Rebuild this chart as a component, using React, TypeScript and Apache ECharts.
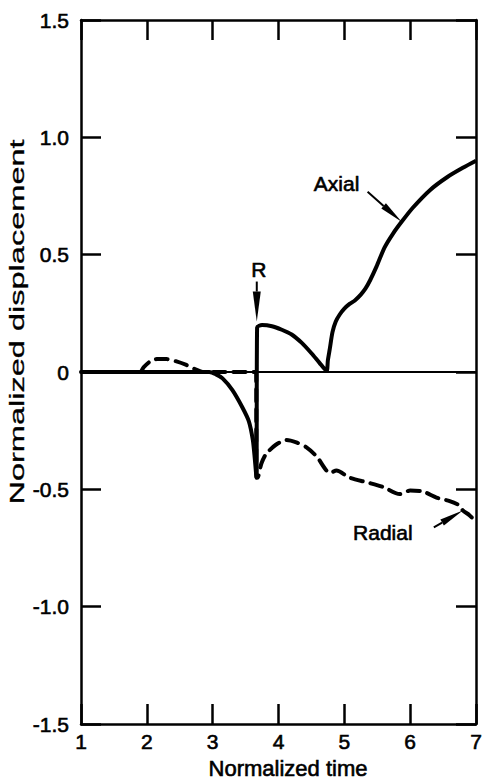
import React, { useEffect, useRef } from "react";
import * as echarts from "echarts";

// Normalized time (x) vs normalized displacement (y)
const axialPoints: [number, number][] = [
  [1.0, 0], [2.95, 0], [3.05, -0.01], [3.15, -0.027], [3.3, -0.077], [3.45, -0.15],
  [3.55, -0.21], [3.61, -0.29], [3.64, -0.37], [3.665, -0.45],
  [3.675, 0.19], [3.75, 0.2], [3.9, 0.195], [4.05, 0.18], [4.2, 0.16], [4.35, 0.125],
  [4.5, 0.08], [4.62, 0.04], [4.73, 0.005],
  [4.75, 0.05], [4.78, 0.1], [4.82, 0.17], [4.87, 0.215], [4.93, 0.245], [5.0, 0.27],
  [5.08, 0.29], [5.16, 0.305], [5.25, 0.33], [5.32, 0.355], [5.39, 0.39], [5.49, 0.45],
  [5.61, 0.53], [5.74, 0.59], [5.87, 0.64], [6.04, 0.7], [6.3, 0.775], [6.56, 0.83],
  [6.8, 0.87], [7.0, 0.9],
];

const radialPoints: [number, number][] = [
  [1.0, 0], [1.9, 0], [1.95, 0.02], [2.05, 0.045], [2.15, 0.055], [2.3, 0.055],
  [2.45, 0.045], [2.6, 0.03], [2.75, 0.01], [2.85, 0], [3.66, 0], [3.665, -0.45],
  [3.68, -0.45], [3.74, -0.39], [3.81, -0.35], [3.96, -0.31], [4.12, -0.29], [4.27, -0.3],
  [4.42, -0.32], [4.58, -0.36], [4.78, -0.43], [4.88, -0.42], [5.08, -0.45], [5.34, -0.47],
  [5.59, -0.49], [5.84, -0.52], [6.0, -0.505], [6.2, -0.51], [6.4, -0.535], [6.6, -0.55],
  [6.76, -0.57], [6.8, -0.59], [6.9, -0.61], [7.0, -0.64],
];

const baseline: [number, number][] = [[1, 0], [7, 0]];

const xRange = { min: 1, max: 7, step: 1 };
const yRange = { min: -1.5, max: 1.5, step: 0.5 };

// Annotation anchors (data coordinates of arrow tips)
const axialTip: [number, number] = [5.87, 0.64];
const radialTip: [number, number] = [6.8, -0.59];
const releaseTip: [number, number] = [3.67, 0.215];

const FONT = "'Liberation Sans', Arial, Helvetica, sans-serif";

function arrow(tail: number[], tip: number[], headLen: number, headWidth: number) {
  const dx = tip[0] - tail[0];
  const dy = tip[1] - tail[1];
  const len = Math.sqrt(dx * dx + dy * dy);
  const ux = dx / len;
  const uy = dy / len;
  const bx = tip[0] - ux * headLen;
  const by = tip[1] - uy * headLen;
  const px = -uy * (headWidth / 2);
  const py = ux * (headWidth / 2);
  return [
    {
      type: "line",
      shape: { x1: tail[0], y1: tail[1], x2: bx, y2: by },
      style: { stroke: "#000", lineWidth: 2 },
    },
    {
      type: "polygon",
      shape: { points: [[bx + px, by + py], [tip[0], tip[1]], [bx - px, by - py]] },
      style: { fill: "#000" },
    },
  ];
}

export default function App() {
  const ref = useRef<HTMLDivElement>(null);

  useEffect(() => {
    if (!ref.current) return;
    const chart = echarts.init(ref.current, null, { renderer: "svg" });

    const axisLine = { show: true, onZero: false, lineStyle: { color: "#000", width: 2.5 } };
    const axisTick = { show: true, inside: true, length: 20, lineStyle: { color: "#000", width: 2.5 } };
    const labelStyle = {
      color: "#000", fontSize: 21, fontFamily: FONT, textBorderColor: "#000", textBorderWidth: 0.6,
    };

    chart.setOption({
      animation: false,
      grid: { left: 81, right: 13, top: 20, bottom: 55 },
      xAxis: [
        {
          type: "value", min: xRange.min, max: xRange.max, interval: xRange.step,
          position: "bottom", axisLine, axisTick,
          axisLabel: { ...labelStyle, margin: 7 },
          splitLine: { show: false },
        },
        {
          type: "value", min: xRange.min, max: xRange.max, interval: xRange.step,
          position: "top", axisLine, axisTick,
          axisLabel: { show: false }, splitLine: { show: false },
        },
      ],
      yAxis: [
        {
          type: "value", min: yRange.min, max: yRange.max, interval: yRange.step,
          position: "left", axisLine, axisTick,
          axisLabel: {
            ...labelStyle, margin: 12,
            formatter: (v: number) => (v === 0 ? "0" : v.toFixed(1)),
          },
          splitLine: { show: false },
        },
        {
          type: "value", min: yRange.min, max: yRange.max, interval: yRange.step,
          position: "right", axisLine, axisTick,
          axisLabel: { show: false }, splitLine: { show: false },
        },
      ],
      series: [
        {
          name: "baseline", type: "line", data: baseline, showSymbol: false, silent: true, z: 1,
          lineStyle: { color: "#000", width: 2 },
        },
        {
          name: "Radial", type: "line", data: radialPoints, showSymbol: false, silent: true, z: 2,
          smooth: 0.25,
          lineStyle: { color: "#000", width: 4, type: [12, 8], cap: "round", join: "round" },
        },
        {
          name: "Axial", type: "line", data: axialPoints, showSymbol: false, silent: true, z: 3,
          smooth: 0.25,
          lineStyle: { color: "#000", width: 4, join: "round" },
        },
      ],
    });

    const toPx = (p: [number, number]) => chart.convertToPixel({ gridIndex: 0 }, p) as number[];
    const a = toPx(axialTip);
    const r = toPx(radialTip);
    const q = toPx(releaseTip);

    const textStyle = (text: string, size = 21, weight = 0.6) => ({
      text, fill: "#000", font: `${size}px ${FONT}`, textAlign: "center", textVerticalAlign: "middle",
      stroke: "#000", lineWidth: weight,
    });

    chart.setOption({
      graphic: [
        ...arrow([a[0] - 34, a[1] - 30], a, 24, 7),
        { type: "text", x: a[0] - 65, y: a[1] - 38, style: textStyle("Axial") },
        ...arrow([r[0] - 29, r[1] + 17], r, 24, 7),
        { type: "text", x: r[0] - 80, y: r[1] + 22, style: textStyle("Radial") },
        ...arrow([q[0], q[1] - 40], q, 30, 8),
        { type: "text", x: q[0] + 2, y: q[1] - 52, style: textStyle("R") },
        { type: "text", x: 288, y: 768, style: textStyle("Normalized time", 22) },
        {
          type: "text", x: 17, y: 322, rotation: Math.PI / 2, scaleX: 1.55,
          style: textStyle("Normalized displacement", 21, 0.3),
        },
      ],
    });

    return () => chart.dispose();
  }, []);

  return (
    <div
      ref={ref}
      style={{ position: "fixed", left: 0, top: 0, width: 489, height: 779, background: "#fff" }}
    />
  );
}
